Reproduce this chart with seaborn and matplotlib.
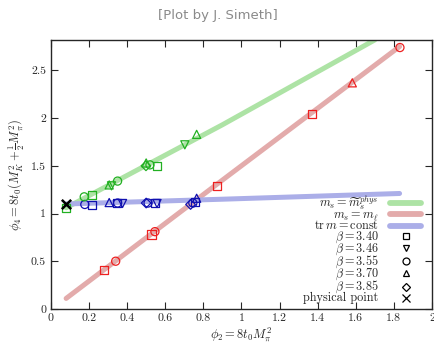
import matplotlib.pyplot as plt
import pandas as pd
import seaborn as sns
from matplotlib.lines import Line2D

# trajectory lines (phi2, phi4)
line_phi2 = [0.08, 0.9, 1.7]
green_phi4 = [1.06, 1.93, 2.82]
red_phi4 = [0.11, 1.35, 2.75]
red_phi2 = [0.08, 0.9, 1.83]
blue_phi2 = [0.08, 0.9, 1.83]
blue_phi4 = [1.10, 1.15, 1.21]

# ensemble points: phi2, phi4, beta
green_phi2 = [0.079, 0.175, 0.217, 0.306, 0.318, 0.35, 0.499, 0.50, 0.52, 0.558, 0.703, 0.765]
green_y = [1.056, 1.175, 1.195, 1.30, 1.29, 1.34, 1.50, 1.53, 1.51, 1.50, 1.72, 1.83]
green_beta = ["3.40", "3.55", "3.40", "3.70", "3.46", "3.55", "3.85", "3.70", "3.55", "3.40", "3.46", "3.70"]

blue_pt_phi2 = [0.178, 0.217, 0.306, 0.345, 0.35, 0.376, 0.50, 0.51, 0.546, 0.557, 0.733, 0.745, 0.757, 0.765]
blue_pt_phi4 = [1.095, 1.085, 1.115, 1.11, 1.11, 1.105, 1.11, 1.11, 1.11, 1.105, 1.095, 1.11, 1.12, 1.16]
blue_beta = ["3.55", "3.40", "3.70", "3.40", "3.55", "3.46", "3.85", "3.55", "3.40", "3.46", "3.85", "3.55", "3.40", "3.70"]

red_pt_phi2 = [0.28, 0.34, 0.528, 0.546, 0.87, 1.372, 1.582, 1.832]
red_pt_phi4 = [0.41, 0.50, 0.78, 0.81, 1.29, 2.04, 2.37, 2.74]
red_beta = ["3.40", "3.55", "3.40", "3.55", "3.40", "3.40", "3.70", "3.55"]

phys_phi2 = [0.079]
phys_phi4 = [1.105]

betas = ["3.40", "3.46", "3.55", "3.70", "3.85"]
beta_markers = {"3.40": "s", "3.46": "v", "3.55": "o", "3.70": "^", "3.85": "D"}

sns.set_style("ticks")
plt.rcParams["font.family"] = ["cmr10", "DejaVu Serif"]
plt.rcParams["mathtext.fontset"] = "cm"
plt.rcParams["axes.formatter.use_mathtext"] = True
plt.rcParams["font.size"] = 8.5

fig = plt.figure(figsize=(4.35, 3.44), dpi=100)
ax = fig.add_axes([0.117, 0.102, 0.876, 0.782])

line_cols = {"green": "#ade3a5", "red": "#e3abab", "blue": "#abaee8"}
sns.lineplot(x=line_phi2, y=green_phi4, color=line_cols["green"], lw=3.6, ax=ax)
sns.lineplot(x=red_phi2, y=red_phi4, color=line_cols["red"], lw=3.6, ax=ax)
sns.lineplot(x=blue_phi2, y=blue_phi4, color=line_cols["blue"], lw=3.6, ax=ax)

pts = pd.concat([
    pd.DataFrame({"phi2": green_phi2, "phi4": green_y, "beta": green_beta, "c": "#22b022"}),
    pd.DataFrame({"phi2": red_pt_phi2, "phi4": red_pt_phi4, "beta": red_beta, "c": "#ee2020"}),
    pd.DataFrame({"phi2": blue_pt_phi2, "phi4": blue_pt_phi4, "beta": blue_beta, "c": "#1010b0"}),
])
for (b, c), g in pts.groupby(["beta", "c"]):
    m = beta_markers[b]
    s = 24 if m == "D" else 34
    sns.scatterplot(data=g, x="phi2", y="phi4", marker=m, s=s, color=c,
                    facecolor="none", edgecolor=c, linewidth=0.9, ax=ax, zorder=3)

sns.scatterplot(x=phys_phi2, y=phys_phi4, marker="x", s=45, color="black",
                linewidth=1.8, ax=ax, zorder=4)

ax.set_xlim(0, 2)
ax.set_ylim(0, 2.82)
ax.set_xticks([0, 0.2, 0.4, 0.6, 0.8, 1, 1.2, 1.4, 1.6, 1.8, 2])
ax.set_xticklabels(["0", "0.2", "0.4", "0.6", "0.8", "1", "1.2", "1.4", "1.6", "1.8", "2"])
ax.set_yticks([0, 0.5, 1, 1.5, 2, 2.5])
ax.set_yticklabels(["0", "0.5", "1", "1.5", "2", "2.5"])
ax.tick_params(direction="in", top=True, right=True, length=5, width=0.8, labelsize=8.5)
for sp in ax.spines.values():
    sp.set_linewidth(1.0)
ax.set_xlabel(r"$\phi_2 = 8t_0M_\pi^2$", fontsize=9, labelpad=1.5)
ax.set_ylabel(r"$\phi_4 = 8t_0(M_K^2+\frac{1}{2}M_\pi^2)$", fontsize=9, labelpad=3)

handles = [
    Line2D([], [], color=line_cols["green"], lw=4.2),
    Line2D([], [], color=line_cols["red"], lw=4.2),
    Line2D([], [], color=line_cols["blue"], lw=4.2),
]
labels = [r"$m_s = \widetilde{m}_s^{phys}$", r"$m_s = m_\ell$", r"$\mathrm{tr}\,m = \mathrm{const}$"]
for b in betas:
    handles.append(Line2D([], [], ls="none", marker=beta_markers[b], mfc="none",
                          mec="black", ms=5 if beta_markers[b] != "D" else 4, mew=0.9))
    labels.append(r"$\beta = %s$" % b)
handles.append(Line2D([], [], ls="none", marker="x", mec="black", ms=6, mew=0.9))
labels.append("physical point")
ax.legend(handles, labels, loc="lower right", bbox_to_anchor=(0.995, -0.015),
          markerfirst=False, frameon=False, fontsize=8.8, labelspacing=-0.26,
          handleheight=0.4, handlelength=2.6, handletextpad=0.9, borderpad=0.2)

fig.text(0.5, 0.955, "[Plot by J. Simeth]", ha="center", va="center",
         color="#8a8a8a", fontsize=9.5, family="DejaVu Sans")

fig.savefig("out.png", dpi=100)
